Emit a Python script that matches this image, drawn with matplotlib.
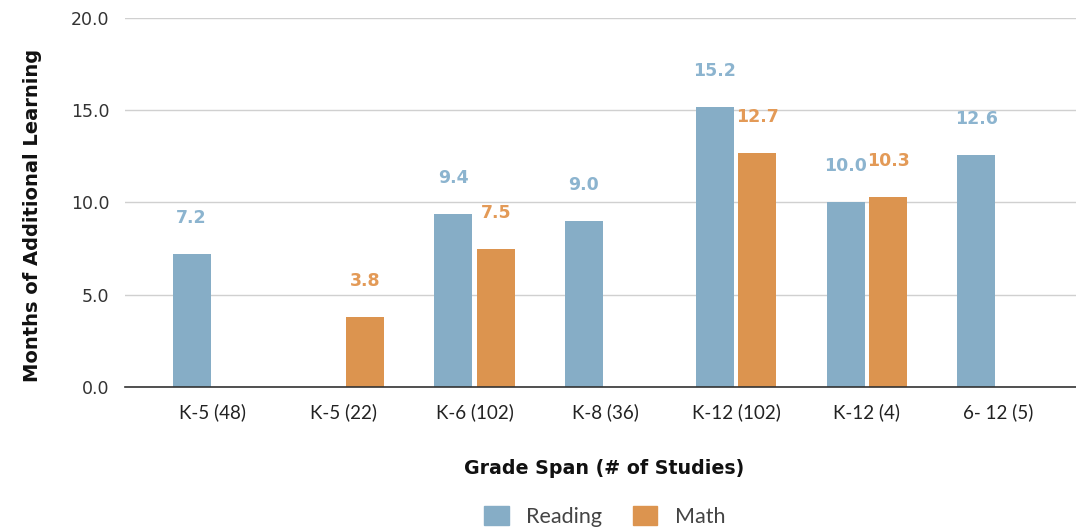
import numpy as np
import matplotlib
matplotlib.use("Agg")
import matplotlib.pyplot as plt
from matplotlib.patches import Patch

# grade spans (number of studies)
categories = ["K-5 (48)", "K-5 (22)", "K-6 (102)", "K-8 (36)", "K-12 (102)", "K-12 (4)", "6- 12 (5)"]
reading = [7.2, None, 9.4, 9.0, 15.2, 10.0, 12.6]
math_vals = [None, 3.8, 7.5, None, 12.7, 10.3, None]
y_ticks = [0, 5, 10, 15, 20]

read_col = "#86adc6"
math_col = "#dc944f"
read_lbl = "#8cb4cf"
math_lbl = "#e39a57"

fig = plt.figure(figsize=(10.76, 5.27), dpi=100)
ax = fig.add_axes([0.116, 0.2657, 0.884, 0.7001])

x = np.arange(len(categories))
w = 0.29
off = 0.163

def put_label(xp, val, col):
    ax.annotate(f"{val:.1f}", (xp, val), xytext=(0, 36), textcoords="offset pixels",
                ha="center", va="center", color=col, fontsize=12.5,
                fontweight="bold", zorder=4)

for i in range(len(categories)):
    if reading[i] is not None:
        ax.bar(x[i] - off, reading[i], w, color=read_col, zorder=3)
        put_label(x[i] - off, reading[i], read_lbl)
    if math_vals[i] is not None:
        ax.bar(x[i] + off, math_vals[i], w, color=math_col, zorder=3)
        put_label(x[i] + off, math_vals[i], math_lbl)

ax.set_xlim(-0.673, 6.598)
ax.set_ylim(0, 20)
ax.set_yticks(y_ticks)
ax.set_yticklabels([f"{t:.1f}" for t in y_ticks], fontsize=12.5, color="#333333")
ax.set_xticks(x)
ax.set_xticklabels(categories, fontsize=13.5, color="#222222", family="Lato")
ax.tick_params(length=0)
ax.tick_params(axis="y", pad=11)
ax.tick_params(axis="x", pad=12)
ax.yaxis.grid(True, color="#d0d0d0", linewidth=1, zorder=0)
for s in ["top", "right", "left"]:
    ax.spines[s].set_visible(False)
ax.spines["bottom"].set_color("#333333")
ax.spines["bottom"].set_linewidth(1.2)
ax.spines["bottom"].set_zorder(5)

ax.set_ylabel("Months of Additional Learning", fontsize=14, fontweight="bold",
              color="#111111", va="center")
ax.yaxis.set_label_coords(-0.097, 0.465)
ax.set_xlabel("Grade Span (# of Studies)", fontsize=13.7, fontweight="bold",
              color="#111111", va="center")
ax.xaxis.set_label_coords(0.504, -0.22)

handles = [Patch(color=read_col, label="Reading"), Patch(color=math_col, label="Math")]
leg = fig.legend(handles=handles, loc="center", bbox_to_anchor=(0.562, 0.02), ncol=2,
                 frameon=False, handlelength=1.15, handleheight=1.0,
                 columnspacing=1.4, handletextpad=0.8,
                 prop={"family": "Lato", "size": 15.5})
for t in leg.get_texts():
    t.set_color("#444444")

fig.savefig("out.png", dpi=100)
